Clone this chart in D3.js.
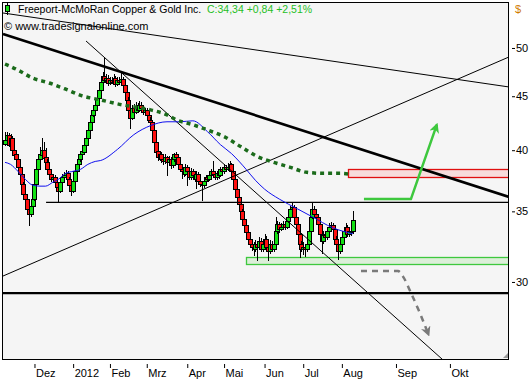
<!DOCTYPE html>
<html>
<head>
<meta charset="utf-8" />
<title>Freeport-McMoRan Copper &amp; Gold Inc.</title>
<script src="https://d3js.org/d3.v7.min.js"></script>
<style>
  body { margin: 0; background: #fff; font-family: "Liberation Sans", Arial, sans-serif; }
</style>
</head>
<body>
<svg id="chart" width="532" height="379"></svg>
<script>
// month ticks, positioned by trading-day index
var monthLabels = ["Dez","2012","Feb","Mrz","Apr","Mai","Jun","Jul","Aug","Sep","Okt"];
var monthBars   = [16, 37, 57, 77, 99, 119, 141, 162, 183, 212.4, 241.7];
var priceTicks  = [30, 35, 40, 45, 50];

// daily candles: [open, high, low, close]
var candles = [
[40.60,41.65,40.40,40.93],[40.93,41.60,40.70,41.38],[41.38,41.55,40.30,40.49],[40.49,41.40,40.35,41.11],
[41.11,41.30,39.90,40.06],[40.06,40.30,39.45,39.63],[39.63,39.85,39.00,39.20],[39.20,39.40,38.30,38.53],
[38.53,38.75,37.70,37.95],[37.95,38.10,36.90,37.14],[37.14,37.35,36.10,36.34],[36.34,36.60,35.70,35.95],
[35.95,36.20,34.95,35.18],[35.18,35.40,33.92,34.81],[34.81,35.60,34.60,35.41],[35.41,36.20,35.20,35.95],
[35.95,37.40,35.80,37.14],[37.14,38.60,37.00,38.36],[38.36,39.45,38.20,39.20],[39.20,40.30,39.00,39.63],
[39.63,41.11,39.40,40.06],[40.06,40.70,39.20,39.37],[39.37,40.20,38.80,38.95],[38.95,39.20,38.20,38.36],
[38.36,38.60,37.70,37.95],[37.95,38.20,37.30,37.54],[37.54,38.00,37.30,37.71],[37.71,37.90,37.10,37.30],
[37.30,37.50,36.70,36.90],[36.90,37.10,35.73,36.58],[36.58,37.50,36.40,37.30],[37.30,38.00,37.10,37.71],
[37.71,38.10,37.50,37.87],[37.87,38.30,37.70,38.03],[38.03,38.20,37.30,37.54],[37.54,37.70,36.90,37.06],
[37.06,37.20,36.19,36.58],[36.58,37.60,36.40,37.38],[37.38,38.40,37.20,38.20],[38.20,39.00,38.00,38.78],
[38.78,39.40,38.60,39.20],[39.20,39.90,39.00,39.63],[39.63,40.30,39.40,39.89],[39.89,40.70,39.70,40.49],
[40.49,41.30,40.30,41.11],[41.11,42.10,40.90,41.83],[41.83,42.80,41.60,42.56],[42.56,43.50,42.30,43.21],
[43.21,43.90,43.00,43.68],[43.68,44.40,43.40,44.16],[44.16,45.10,43.90,44.84],[44.84,45.90,44.60,45.62],
[45.62,46.70,45.40,46.42],[46.42,47.40,46.20,47.03],[47.03,49.03,46.40,46.62],[46.62,47.20,46.40,46.82],
[46.82,47.10,46.00,46.32],[46.32,46.90,46.10,46.62],[46.62,46.90,46.20,46.42],[46.42,47.20,46.20,46.82],
[46.82,47.00,45.90,46.22],[46.22,46.90,46.00,46.62],[46.62,46.90,46.10,46.42],[46.42,47.30,46.20,46.72],
[46.72,46.90,45.80,46.12],[46.12,46.30,45.10,45.42],[45.42,45.60,44.30,44.64],[44.64,44.90,43.30,43.68],
[43.68,43.90,41.90,42.93],[42.93,44.10,42.70,43.87],[43.87,44.20,43.20,43.49],[43.49,44.40,43.30,44.06],
[44.06,44.30,43.40,43.68],[43.68,44.50,43.50,44.16],[44.16,44.40,43.60,43.87],[43.87,44.10,43.20,43.49],
[43.49,43.90,43.20,43.68],[43.68,43.90,42.90,43.21],[43.21,43.40,42.50,42.75],[42.75,43.00,42.30,42.56],
[42.56,42.70,41.50,41.83],[41.83,42.00,40.50,40.76],[40.76,40.90,39.60,39.89],[39.89,40.10,39.10,39.37],
[39.37,39.90,39.10,39.63],[39.63,39.80,38.90,39.20],[39.20,39.40,38.70,39.03],[39.03,39.70,38.80,39.37],
[39.37,39.50,37.80,38.95],[38.95,39.50,38.70,39.20],[39.20,39.40,38.40,38.70],[38.70,39.50,38.50,39.20],
[39.20,39.72,39.00,39.63],[39.63,39.80,39.10,39.37],[39.37,39.50,38.50,38.78],[38.78,39.00,38.10,38.36],
[38.36,38.60,37.54,38.20],[38.20,38.40,37.70,37.95],[37.95,38.80,37.80,38.53],[38.53,38.70,37.00,38.20],
[38.20,38.40,37.50,37.71],[37.71,38.50,37.50,38.20],[38.20,38.40,37.60,37.87],[37.87,38.00,37.30,37.54],
[37.54,38.20,36.74,37.95],[37.95,38.10,37.10,37.38],[37.38,37.50,36.90,37.14],[37.14,37.40,35.80,37.06],
[37.06,37.60,36.80,37.38],[37.38,37.90,37.20,37.71],[37.71,37.90,37.30,37.54],[37.54,38.10,37.40,37.87],
[37.87,38.40,37.70,38.20],[38.20,39.03,37.80,37.95],[37.95,38.10,37.50,37.71],[37.71,38.20,37.50,38.03],
[38.03,38.20,37.60,37.87],[37.87,38.60,37.70,38.36],[38.36,38.50,38.00,38.20],[38.20,38.80,38.00,38.53],
[38.53,38.70,38.10,38.36],[38.36,38.90,38.20,38.53],[38.53,39.05,38.30,38.78],[38.78,38.90,38.00,38.20],
[38.20,38.30,37.30,37.54],[37.54,37.70,36.50,36.74],[36.74,36.90,35.90,36.11],[36.11,36.30,35.30,35.57],
[35.57,35.80,34.80,35.03],[35.03,35.20,34.20,34.43],[34.43,34.60,33.70,33.99],[33.99,34.20,33.20,33.48],
[33.48,33.70,32.70,32.98],[32.98,33.20,32.30,32.62],[32.62,32.90,32.10,32.41],[32.41,32.70,31.78,32.27],
[32.27,32.90,32.00,32.62],[32.62,32.80,31.40,32.41],[32.41,33.10,32.20,32.84],[32.84,33.00,32.00,32.27],
[32.27,32.90,32.00,32.62],[32.62,33.30,32.40,32.98],[32.98,33.20,32.10,32.41],[32.41,32.60,31.38,32.13],
[32.13,32.90,31.90,32.62],[32.62,32.80,32.00,32.27],[32.27,32.90,32.00,32.62],[32.62,34.58,32.40,33.55],
[33.55,34.30,33.30,34.06],[34.06,34.20,33.40,33.70],[33.70,34.10,33.50,33.85],[33.85,34.30,33.60,34.06],
[34.06,34.20,33.60,33.85],[33.85,34.50,33.70,34.28],[34.28,34.80,34.10,34.58],[34.58,35.40,34.40,35.18],
[35.18,35.65,35.00,35.34],[35.34,35.50,34.40,34.58],[34.58,34.70,33.80,34.06],[34.06,34.20,33.10,33.33],
[33.33,33.50,31.60,32.62],[32.62,32.80,32.00,32.27],[32.27,32.70,31.80,32.41],[32.41,32.60,31.70,32.27],
[32.27,32.90,32.00,32.62],[32.62,33.80,32.40,33.55],[33.55,34.80,33.30,34.58],[34.58,35.73,34.40,35.18],
[35.18,35.40,34.60,34.81],[34.81,35.00,34.30,34.58],[34.58,34.70,33.80,34.06],[34.06,34.20,33.10,33.33],
[33.33,33.50,31.92,32.84],[32.84,33.50,32.60,33.26],[33.26,33.40,32.90,33.12],[33.12,33.80,32.90,33.55],
[33.55,34.10,33.30,33.85],[33.85,34.20,33.60,33.99],[33.99,34.10,33.40,33.70],[33.70,33.90,32.70,32.98],
[32.98,33.20,32.40,32.62],[32.62,32.80,31.45,32.13],[32.13,32.90,31.90,32.62],[32.62,33.40,32.40,33.12],
[33.12,33.80,32.90,33.55],[33.55,34.10,33.30,33.85],[33.85,34.00,33.10,33.33],[33.33,33.80,33.10,33.55],
[33.55,33.80,33.20,33.50],[33.50,35.03,33.30,34.34]
];

// moving averages: [bar, price]
var ma50 = [[0,38.95],[3,38.78],[7,38.20],[11,37.54],[15,37.06],[19,36.98],[22,36.98],[26,37.30],
  [29,37.54],[33,38.03],[37,38.20],[41,38.36],[45,38.78],[49,39.03],[52,39.11],[61,40.06],[70,41.38],
  [79,42.20],[88,42.56],[95,42.56],[102,42.65],[110,41.65],[117,40.49],[123,39.71],[131,38.36],
  [136,37.46],[141,36.74],[149,35.95],[159,35.18],[167,34.58],[178,33.77],[189,33.33]];
var ma200 = [[0,48.28],[7,47.65],[15,46.82],[24,46.32],[34,45.62],[42,45.03],[52,44.64],[61,44.26],
  [70,43.97],[79,43.68],[88,43.21],[93,42.75],[102,42.29],[111,41.74],[119,41.20],[128,40.32],
  [137,39.46],[146,38.95],[155,38.53],[164,38.11],[173,38.03],[182,38.03],[188,37.95]];

// drawn trend lines and zones: [bar, price]
var thickTrend  = [[-1.1,51.55],[273.8,36.12]];
var upperTrend  = [[-1.1,53.97],[273.8,45.92]];
var steepTrend  = [[44,50.77],[238,25.3]];
var risingTrend = [[-1.1,30.39],[273.8,49.03]];
var supportLine = [[22.3,35.70],[273.8,35.70]];
var lowLine     = [[-1.1,29.28],[273.8,29.28]];
var resistZone  = [[186.3,38.42],[273.8,37.73]];
var supportZone = [[130.7,31.70],[273.8,31.20]];
var upArrow     = [[195,35.95],[220.5,35.95],[234.6,42.29]];
var downArrow   = [[193.4,30.72],[213.5,30.72],[216.5,30.3],[220.5,29.3],[225.5,28.0],[229.5,26.9]];

var svg = d3.select("#chart");
var x = d3.scaleLinear().domain([-1.1, 273.8]).range([3, 509]);
var y = d3.scaleLog().domain([25.3, 55.28]).range([360, 2]);

var defs = svg.append("defs");
defs.append("clipPath").attr("id","plot").append("rect")
  .attr("x",2.5).attr("y",2.5).attr("width",506).attr("height",357);
defs.append("marker").attr("id","grayhead").attr("viewBox","0 0 10 10")
  .attr("refX",5).attr("refY",5).attr("markerWidth",4).attr("markerHeight",4)
  .attr("orient","auto").attr("markerUnits","strokeWidth")
  .append("path").attr("d","M0,0 L10,5 L0,10 L3,5 Z").attr("fill","#7a7a7a");
defs.append("marker").attr("id","greenhead").attr("viewBox","0 0 10 10")
  .attr("refX",8).attr("refY",5).attr("markerWidth",4).attr("markerHeight",4)
  .attr("orient","auto").attr("markerUnits","strokeWidth")
  .append("path").attr("d","M0,0 L10,5 L0,10 L3,5 Z").attr("fill","#3ec83e");

svg.append("rect").attr("x",2.5).attr("y",2.5).attr("width",506).attr("height",357)
  .attr("fill","#f5f5f5");

var plot = svg.append("g").attr("clip-path","url(#plot)");
var line = d3.line().x(function(d){ return x(d[0]); }).y(function(d){ return y(d[1]); });

// zones
function zone(z, fill, stroke) {
  plot.append("rect")
    .attr("x", Math.round(x(z[0][0])) + 0.5).attr("y", Math.round(y(z[0][1])) + 0.5)
    .attr("width", x(z[1][0]) - x(z[0][0]) + 2)
    .attr("height", Math.round(y(z[1][1]) - y(z[0][1])))
    .attr("fill", fill).attr("stroke", stroke).attr("stroke-width", 1.3);
}
zone(resistZone, "#f7dcdc", "#e01010");
zone(supportZone, "#dcefd9", "#3ec83e");

// candles
var cg = plot.append("g");
candles.forEach(function(c, i) {
  var cx = Math.round(x(i));
  var top = y(Math.max(c[0], c[3])), bot = y(Math.min(c[0], c[3]));
  cg.append("line").attr("x1", cx + 0.5).attr("x2", cx + 0.5)
    .attr("y1", Math.round(y(c[1]))).attr("y2", Math.round(y(c[2])))
    .attr("stroke", "#000").attr("stroke-width", 1);
  cg.append("rect").attr("x", cx - 1.5).attr("y", Math.round(top) + 0.5)
    .attr("width", 4).attr("height", Math.max(1, Math.round(bot - top)))
    .attr("fill", c[3] >= c[0] ? "#14e014" : "#ff1010")
    .attr("stroke", "#000").attr("stroke-width", 1);
});

// lines
function trend(pts, w) {
  plot.append("path").datum(pts).attr("d", line)
    .attr("fill","none").attr("stroke","#000").attr("stroke-width", w);
}
trend(upperTrend, 1);
trend(thickTrend, 2.6);
trend(steepTrend, 1);
trend(risingTrend, 1);
trend(supportLine, 1.3);
trend(lowLine, 2.4);

plot.append("path").datum(ma50).attr("d", line.curve(d3.curveMonotoneX))
  .attr("fill","none").attr("stroke","#1010ee").attr("stroke-width",1);
plot.append("path").datum(ma200).attr("d", line.curve(d3.curveMonotoneX))
  .attr("fill","none").attr("stroke","#1b6b1b").attr("stroke-width",3.5)
  .attr("stroke-dasharray","4,4");
line.curve(d3.curveLinear);

plot.append("path").datum(upArrow).attr("d", line)
  .attr("fill","none").attr("stroke","#3ec83e").attr("stroke-width",2.5)
  .attr("stroke-linejoin","round").attr("marker-end","url(#greenhead)");
plot.append("path").datum(downArrow).attr("d", line.curve(d3.curveMonotoneX))
  .attr("fill","none").attr("stroke","#7a7a7a").attr("stroke-width",2.5)
  .attr("stroke-dasharray","6,5").attr("marker-end","url(#grayhead)");
line.curve(d3.curveLinear);

// frame
svg.append("rect").attr("x",2.5).attr("y",2.5).attr("width",506).attr("height",357)
  .attr("fill","none").attr("stroke","#000").attr("stroke-width",1);
svg.append("path").attr("d","M503,358 L508,353 L508,358 Z").attr("fill","#9a9a9a");

// axes
var gy = svg.append("g").attr("transform","translate(512,0)")
  .call(d3.axisRight(y).tickValues(priceTicks).tickFormat(d3.format("d")).tickSize(3).tickPadding(1));
gy.select(".domain").remove();
gy.selectAll("text").attr("font-size",11).attr("font-family","Liberation Sans, Arial, sans-serif").attr("fill","#000");
gy.selectAll("line").attr("stroke","#000");

var gx = svg.append("g").attr("transform","translate(0,364)")
  .call(d3.axisBottom(x).tickValues(monthBars)
    .tickFormat(function(d, i){ return monthLabels[i]; }).tickSize(4));
gx.select(".domain").remove();
gx.selectAll("line").attr("stroke","#000");
gx.selectAll("text").attr("text-anchor","start").attr("x",1).attr("y",5)
  .attr("font-size",11).attr("font-family","Liberation Sans, Arial, sans-serif").attr("fill","#000");

svg.append("text").attr("x",515).attr("y",13).attr("font-size",11)
  .attr("fill","#d07a00").text("$");

// header
svg.append("line").attr("x1",7.5).attr("x2",7.5).attr("y1",3).attr("y2",15).attr("stroke","#000");
svg.append("rect").attr("x",5.5).attr("y",5.5).attr("width",4).attr("height",6)
  .attr("fill","#14e014").attr("stroke","#000");
svg.append("text").attr("x",18).attr("y",13).attr("font-size",10.5).attr("fill","#000")
  .text("Freeport-McMoRan Copper & Gold Inc.");
svg.append("text").attr("x",207).attr("y",13).attr("font-size",10.5).attr("fill","#1fbf1f")
  .text("C:34,34 +0,84 +2,51%");
svg.append("text").attr("x",4).attr("y",30).attr("font-size",11).attr("fill","#000")
  .text("\u00a9 www.tradesignalonline.com");
</script>
</body>
</html>
